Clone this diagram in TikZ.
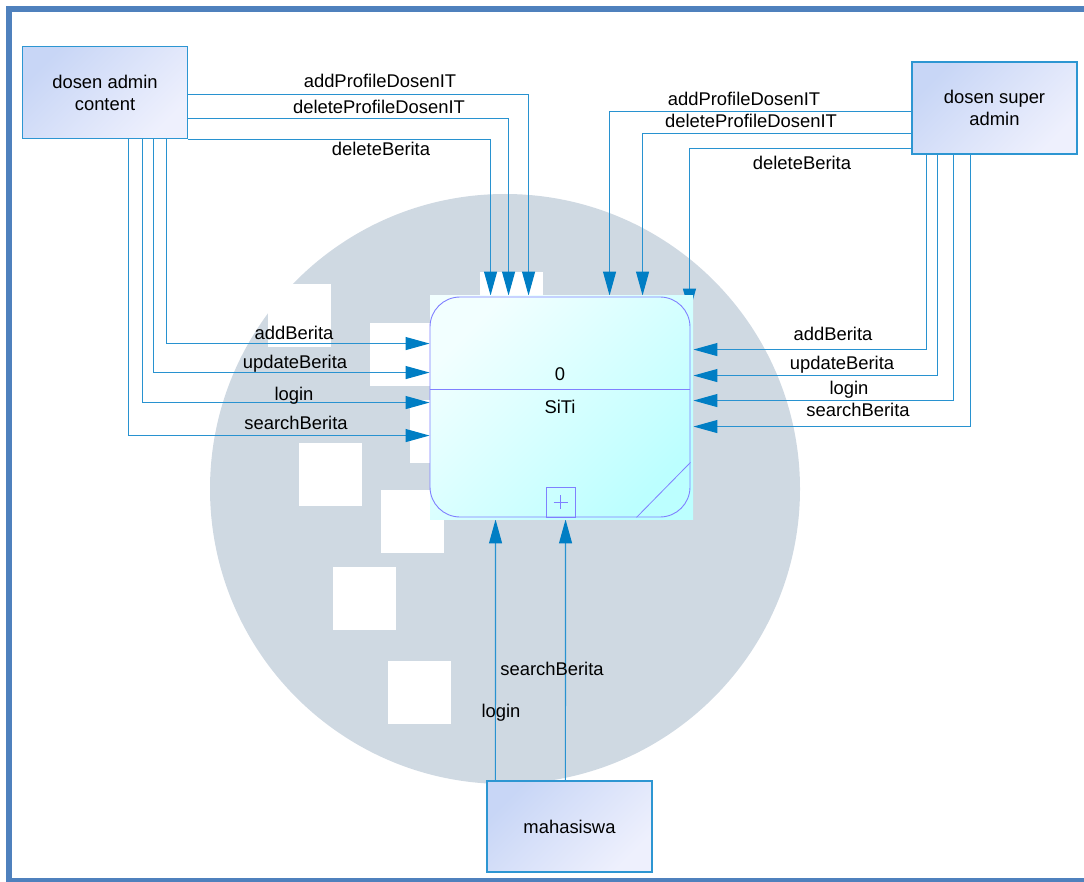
\documentclass[tikz,border=0pt]{standalone}
\usepackage{fontspec}
\setmainfont{Liberation Sans}
\usetikzlibrary{arrows.meta,calc}

\definecolor{framec}{RGB}{79,129,189}
\definecolor{wmgrey}{RGB}{207,217,226}
\definecolor{flowc}{RGB}{40,146,208}
\definecolor{flowhead}{RGB}{0,126,196}
\definecolor{entline}{RGB}{45,150,210}
\definecolor{entA}{RGB}{200,214,246}
\definecolor{entB}{RGB}{238,240,253}
\definecolor{procline}{RGB}{128,128,255}
\definecolor{procA}{RGB}{242,255,255}
\definecolor{procB}{RGB}{188,255,255}

\pgfdeclarelayer{wm}
\pgfdeclarelayer{flows}
\pgfsetlayers{wm,flows,main}

\tikzset{
  entity/.style={draw=entline, line width=1.2pt, left color=entA, right color=entB,
    shading angle=45, minimum width=165pt, minimum height=92pt, align=center, inner sep=0pt},
  proc/.style={draw=procline, line width=0.9pt, rounded corners=30pt,
    minimum width=260pt, minimum height=220pt, inner sep=0pt},
  flow/.style={draw=flowc, line width=1.1pt,
    -{Triangle[length=24pt,width=13pt,color=flowhead]}},
  lbl/.style={inner sep=0pt, text height=13pt, text depth=4pt, yshift=-2.5pt},
}

\begin{document}
\begin{tikzpicture}[x=1pt,y=-1pt,font=\fontsize{18.4}{22}\selectfont]
      \useasboundingbox (0,0) rectangle (1084,882);
      % watermark
      \begin{pgfonlayer}{wm}
      \fill[wmgrey] (505,489) circle (295);
      \fill[white] (268,284) rectangle ++(63,63);
      \fill[white] (370,323) rectangle ++(63,63);
      \fill[white] (480,272) rectangle ++(63,63);
      \fill[white] (410,400) rectangle ++(63,63);
      \fill[white] (299,443) rectangle ++(63,63);
      \fill[white] (381,490) rectangle ++(63,63);
      \fill[white] (333,567) rectangle ++(63,63);
      \fill[white] (388,661) rectangle ++(63,63);
      \end{pgfonlayer}
      % frame
      \fill[framec] (6,6) rectangle (1084,12);
      \fill[framec] (6,6) rectangle (12,882);
      \fill[framec] (6,878) rectangle (1084,882);

      % entities
      \node[entity] (dac) at (105,92.5) {dosen admin\\content};
      \node[entity] (dsa) at (994.5,108) {dosen super\\admin};
      \node[entity,minimum height=91pt] (mhs) at (569.5,826.5) {mahasiswa};

      % process
      \shade[left color=procA,right color=procB,shading angle=45] (430,296) rectangle (693,519);
      \node[proc] (proc) at (560,407) {};
      \draw[procline,line width=0.9pt] ($(proc.north west)+(0,93)$) -- ($(proc.north east)+(0,93)$);
      \node[lbl] (pid) at (560,374) {0};
      \node[lbl] (pname) at (560,406) {SiTi};
      \node[draw=procline,line width=0.8pt,minimum width=29pt,minimum height=30pt,inner sep=0pt] (plus) at (560.5,502) {};
      \draw[procline,line width=0.8pt] ($(plus.center)+(-7,0)$) -- ($(plus.center)+(7,0)$);
      \draw[procline,line width=0.8pt] ($(plus.center)+(0,-7)$) -- ($(plus.center)+(0,7)$);
      \draw[procline,line width=0.8pt] ($(proc.south east)+(-54,0)$) -- ($(proc.south east)+(0,-55)$);

      % flows
      \begin{pgfonlayer}{flows}
      \draw[flow] ($(dac.north east)+(0,48.5)$) -| ($(proc.north west)+(99,-1)$);
      \draw[flow] ($(dac.north east)+(0,72.5)$) -| ($(proc.north west)+(79,-1)$);
      \draw[flow] (dac.south east) -| ($(proc.north west)+(61,-1)$);
      \draw[flow] ($(dac.south west)+(145,0)$) |- ($(proc.north west)+(0,47)$);
      \draw[flow] ($(dac.south west)+(132,0)$) |- ($(proc.north west)+(0,76)$);
      \draw[flow] ($(dac.south west)+(121,0)$) |- ($(proc.north west)+(0,106)$);
      \draw[flow] ($(dac.south west)+(107,0)$) |- ($(proc.north west)+(0,139)$);
      \draw[flow] ($(dsa.north west)+(0,50)$) -| ($(proc.north west)+(180,-1)$);
      \draw[flow] ($(dsa.north west)+(0,72)$) -| ($(proc.north west)+(213,-1)$);
      \draw[flow] ($(dsa.north west)+(0,87)$) -| ($(proc.north east)+(-1,16)$);
      \draw[flow] ($(dsa.south west)+(15,0)$) |- ($(proc.north east)+(3,53)$);
      \draw[flow] ($(dsa.south west)+(26,0)$) |- ($(proc.north east)+(3,79)$);
      \draw[flow] ($(dsa.south west)+(42,0)$) |- ($(proc.north east)+(3,104)$);
      \draw[flow] ($(dsa.south west)+(59,0)$) |- ($(proc.north east)+(3,130)$);
      \draw[flow] ($(mhs.north west)+(9,0)$) -- ($(proc.south west)+(66,2)$);
      \draw[flow] ($(mhs.north west)+(79,0)$) -- ($(proc.south west)+(136,2)$);
      \end{pgfonlayer}

      % labels
      \node[lbl] (l1) at (380,81) {addProfileDosenIT};
      \node[lbl] (l2) at (379,107) {deleteProfileDosenIT};
      \node[lbl] (l3) at (381,149) {deleteBerita};
      \node[lbl] (l4) at (294,333) {addBerita};
      \node[lbl] (l5) at (295,362) {updateBerita};
      \node[lbl] (l6) at (294,393) {login};
      \node[lbl] (l7) at (296,422) {searchBerita};
      \node[lbl] (r1) at (744,99) {addProfileDosenIT};
      \node[lbl] (r2) at (751,121) {deleteProfileDosenIT};
      \node[lbl] (r3) at (802,163) {deleteBerita};
      \node[lbl] (r4) at (833,334) {addBerita};
      \node[lbl] (r5) at (842,363) {updateBerita};
      \node[lbl] (r6) at (849,387) {login};
      \node[lbl] (r7) at (858,409) {searchBerita};
      \node[lbl] (m1) at (552,668) {searchBerita};
      \node[lbl] (m2) at (501,710) {login};
\end{tikzpicture}
\end{document}
